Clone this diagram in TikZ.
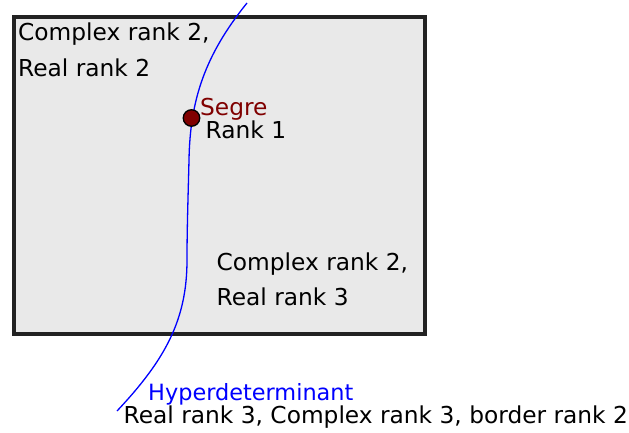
\documentclass[tikz,border=0pt]{standalone}
\usepackage{fontspec}
\setmainfont{DejaVu Sans}
\definecolor{boxfill}{HTML}{E9E9E9}
\definecolor{boxline}{HTML}{222222}
\definecolor{segred}{HTML}{800000}
\begin{document}
\begin{tikzpicture}[x=1pt,y=-1pt,
  lbl/.style={anchor=base west,inner sep=0pt,font=\fontsize{23.3}{28}\selectfont},
  region/.style={draw=boxline,line width=4pt,fill=boxfill},
  hyper/.style={draw=blue,line width=1.3pt},
  segdot/.style={circle,draw=black,line width=1.3pt,fill=segred,minimum size=16.5pt,inner sep=0pt}]
\useasboundingbox (0,0) rectangle (629,433);
\draw[region] (13.5,17) rectangle (425,333.5);
\draw[hyper] (247,3) .. controls (205,55) and (190,100) .. (189,160) .. controls (188,200) and (187,230) .. (187,260) .. controls (187,320) and (165,360) .. (117,411);
\node[segdot] (segre) at (191.5,118) {};
\node[lbl] (c22a) at (18,41) {Complex rank 2,};
\node[lbl] (c22b) at (18,77) {Real rank 2};
\node[lbl,text=segred] (seg) at (200,116) {Segre};
\node[lbl] (r1) at (205.5,139) {Rank 1};
\node[lbl] (c23a) at (216.5,270) {Complex rank 2,};
\node[lbl] (c23b) at (216.5,305) {Real rank 3};
\node[lbl,text=blue,font=\fontsize{22.4}{27}\selectfont] (hyp) at (148,400.5) {Hyperdeterminant};
\node[lbl] (bottom) at (123.5,423) {Real rank 3, Complex rank 3, border rank 2};
\end{tikzpicture}
\end{document}
